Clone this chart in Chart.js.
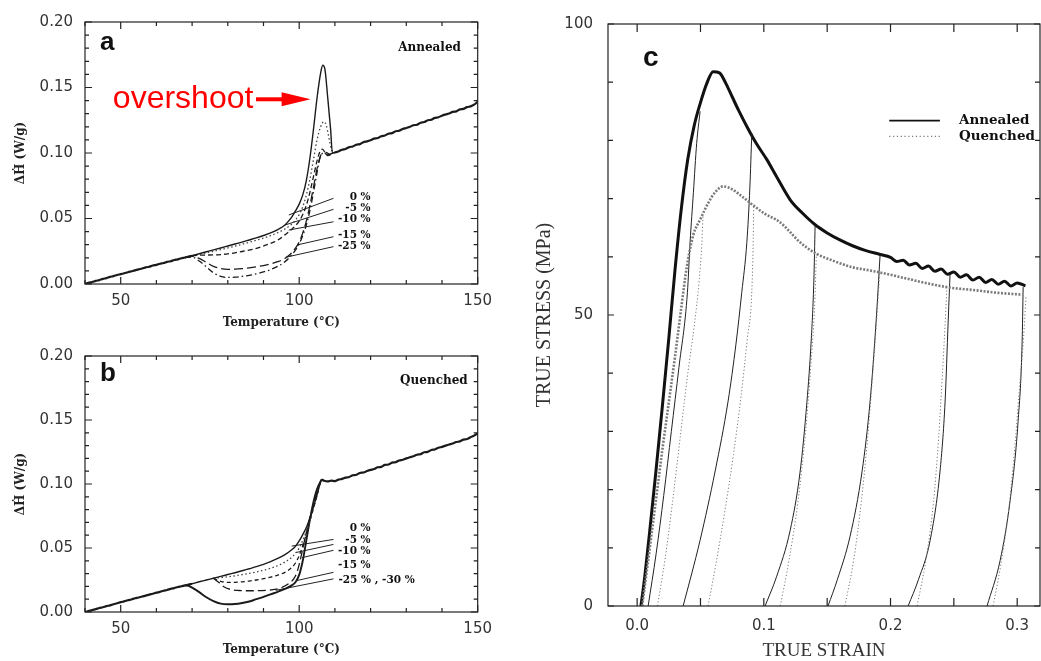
<!DOCTYPE html>
<html><head><meta charset="utf-8">
<script src="https://cdn.jsdelivr.net/npm/chart.js@4.4.1/dist/chart.umd.min.js"></script>
<style>
html,body{margin:0;padding:0;background:#fff;width:1041px;height:661px;overflow:hidden}
canvas{position:absolute;display:block}
</style></head><body>
<canvas id="ca" width="500" height="335" style="left:0;top:0;width:500px;height:335px"></canvas>
<canvas id="cb" width="500" height="326" style="left:0;top:335px;width:500px;height:326px"></canvas>
<canvas id="cc" width="511" height="661" style="left:530px;top:0;width:511px;height:661px"></canvas>
<script>
// ---------- tick values ----------
const tempTicks = [40,50,60,70,80,90,100,110,120,130,140,150];
const tempTickLabels = [50,100,150];
const dhTicks = [0,0.01,0.02,0.03,0.04,0.05,0.06,0.07,0.08,0.09,0.1,0.11,0.12,0.13,0.14,0.15,0.16,0.17,0.18,0.19,0.2];
const dhTickLabels = [0,0.05,0.1,0.15,0.2];
const strainTicks = [0,0.05,0.1,0.15,0.2,0.25,0.3];
const strainTickLabels = [0,0.1,0.2,0.3];
const stressTicks = [0,10,20,30,40,50,60,70,80,90,100];
const stressTickLabels = [0,50,100];

// ---------- panel a : Annealed DSC ----------
const aGlassT = [40,41,42,43,44,45,46,47,48,49,50,51,52,53,54,55,56,57,58,59,60,61,62,63,64,65,66,67,68,69,70];
const aGlassY = [0.0000,0.0009,0.0015,0.0024,0.0030,0.0039,0.0045,0.0054,0.0060,0.0069,0.0075,0.0082,0.0090,0.0097,0.0104,0.0112,0.0118,0.0127,0.0132,0.0141,0.0146,0.0155,0.0160,0.0169,0.0174,0.0183,0.0188,0.0197,0.0202,0.0210,0.0216];
const aMeltT = [110,111,112,113,114,115,116,117,118,119,120,121,122,123,124,125,126,127,128,129,130,131,132,133,134,135,136,137,138,139,140,141,142,143,144,145,146,147,148,149,150];
const aMeltY = [0.1005,0.1012,0.1025,0.1031,0.1045,0.1050,0.1063,0.1068,0.1082,0.1089,0.1098,0.1110,0.1114,0.1128,0.1134,0.1147,0.1152,0.1166,0.1170,0.1183,0.1191,0.1200,0.1212,0.1216,0.1231,0.1236,0.1250,0.1254,0.1268,0.1273,0.1285,0.1294,0.1302,0.1314,0.1318,0.1333,0.1337,0.1350,0.1356,0.1369,0.1392];
const a0T = [70,72,74,76,78,80,82,84,86,88,90,92,94,96,97,98,99,100,101,102,103,104,105,106,106.6,107.2,108,108.8,109.3,110];
const a0Y = [0.0216,0.0231,0.0246,0.0261,0.0275,0.0290,0.0305,0.0320,0.0336,0.0352,0.0370,0.0390,0.0415,0.0450,0.0480,0.0515,0.0560,0.0610,0.0680,0.0790,0.0960,0.1180,0.1420,0.1610,0.1670,0.1640,0.1420,0.1180,0.1000,0.1005];
const a5T = [70,72,74,76,78,80,82,84,86,88,90,92,94,96,98,99,100,101,102,103,104,105,106,106.9,107.6,108.3,109,109.6,110];
const a5Y = [0.0216,0.0226,0.0238,0.0250,0.0262,0.0275,0.0289,0.0303,0.0318,0.0334,0.0351,0.0370,0.0392,0.0420,0.0460,0.0490,0.0530,0.0590,0.0680,0.0800,0.0950,0.1100,0.1200,0.1240,0.1210,0.1120,0.1030,0.1000,0.1005];
const a10T = [70,72,74,76,78,80,82,84,86,88,90,92,94,96,98,100,101,102,103,104,105,105.8,106.5,107.3,108,109,110];
const a10Y = [0.0216,0.0220,0.0221,0.0222,0.0225,0.0230,0.0238,0.0248,0.0259,0.0272,0.0290,0.0310,0.0335,0.0375,0.0420,0.0480,0.0530,0.0600,0.0700,0.0820,0.0940,0.1010,0.1030,0.1000,0.0980,0.0990,0.1005];
const a15T = [68,70,72,74,76,78,80,82,84,86,88,90,92,94,96,98,99,100,101,102,103,104,105,106,107,108,109,110];
const a15Y = [0.0202,0.0212,0.0195,0.0165,0.0135,0.0118,0.0112,0.0113,0.0117,0.0123,0.0131,0.0141,0.0153,0.0170,0.0195,0.0240,0.0275,0.0320,0.0390,0.0480,0.0600,0.0740,0.0880,0.0980,0.1000,0.0985,0.0995,0.1005];
const a25T = [68,70,72,74,76,78,80,82,84,86,88,90,92,94,96,97,98,99,100,101,102,103,104,105,105.8,106.6,107.5,108.5,110];
const a25Y = [0.0202,0.0205,0.0175,0.0130,0.0085,0.0058,0.0050,0.0052,0.0058,0.0066,0.0078,0.0092,0.0110,0.0135,0.0170,0.0195,0.0225,0.0260,0.0305,0.0370,0.0450,0.0560,0.0700,0.0850,0.0960,0.1000,0.1005,0.0990,0.1005];
const aPtrStartT = [97.1,96.0,97.1,99.4,96.2];
const aPtrStartY = [0.0527,0.0450,0.0412,0.0298,0.0204];
const aPtrEndT = [109.6,109.6,109.6,109.6,109.6];
const aPtrEndY = [0.0654,0.0570,0.0475,0.0361,0.0285];
const aLabels = ['0 %','-5 %','-10 %','-15 %','-25 %'];
const aLabelY = [0.0664,0.0580,0.0496,0.0374,0.0290];

// ---------- panel b : Quenched DSC ----------
const bGlassT = [40,41,42,43,44,45,46,47,48,49,50,51,52,53,54,55,56,57,58,59,60,61,62,63,64,65,66,67,68,69,70];
const bGlassY = [0.0000,0.0007,0.0016,0.0022,0.0031,0.0037,0.0046,0.0052,0.0061,0.0068,0.0077,0.0083,0.0092,0.0098,0.0107,0.0113,0.0121,0.0128,0.0136,0.0143,0.0151,0.0157,0.0166,0.0172,0.0181,0.0187,0.0195,0.0201,0.0208,0.0214,0.0221];
const bMeltT = [106.3,107,108,109,110,111,112,113,114,115,116,117,118,119,120,121,122,123,124,125,126,127,128,129,130,131,132,133,134,135,136,137,138,139,140,141,142,143,144,145,146,147,148,149,150];
const bMeltY = [0.1035,0.1025,0.1020,0.1027,0.1023,0.1034,0.1040,0.1050,0.1055,0.1068,0.1072,0.1086,0.1090,0.1101,0.1110,0.1117,0.1131,0.1134,0.1149,0.1152,0.1167,0.1170,0.1184,0.1189,0.1200,0.1209,0.1217,0.1229,0.1233,0.1248,0.1251,0.1266,0.1270,0.1283,0.1290,0.1300,0.1309,0.1316,0.1328,0.1333,0.1347,0.1351,0.1366,0.1378,0.1395];
const b0T = [70,72,74,76,78,80,82,84,86,88,90,92,94,96,98,99,100,101,102,103,104,105,105.8,106.3,107];
const b0Y = [0.0221,0.0236,0.0250,0.0264,0.0278,0.0293,0.0307,0.0322,0.0338,0.0354,0.0372,0.0393,0.0418,0.0448,0.0488,0.0515,0.0555,0.0605,0.0660,0.0735,0.0820,0.0915,0.1000,0.1035,0.1025];
const b5T = [76,78,80,82,84,86,88,90,92,94,96,98,99,100,101,102,103,104,105,105.8,106.3];
const b5Y = [0.0264,0.0268,0.0275,0.0283,0.0292,0.0302,0.0313,0.0326,0.0342,0.0362,0.0390,0.0430,0.0460,0.0500,0.0560,0.0630,0.0720,0.0820,0.0920,0.1000,0.1035];
const b10T = [76,77,78,80,82,84,86,88,90,92,94,96,98,99,100,101,102,103,104,105,105.8,106.3];
const b10Y = [0.0264,0.0250,0.0240,0.0232,0.0232,0.0236,0.0242,0.0250,0.0260,0.0272,0.0288,0.0310,0.0350,0.0385,0.0440,0.0520,0.0610,0.0710,0.0810,0.0910,0.1000,0.1035];
const b15T = [76,77.5,79,81,83,86,89,92,95,97,98.5,99.5,100.5,101.5,102.5,103.5,104.5,105.5,106.3];
const b15Y = [0.0264,0.0230,0.0195,0.0175,0.0168,0.0166,0.0167,0.0172,0.0190,0.0220,0.0260,0.0320,0.0430,0.0560,0.0680,0.0790,0.0890,0.0980,0.1035];
const b25T = [68,69,70,72,74,76,78,80,82,84,86,88,90,92,94,96,98,99,100,101,102,103,104,105,105.8,106.3];
const b25Y = [0.0208,0.0205,0.0190,0.0155,0.0115,0.0085,0.0065,0.0060,0.0062,0.0070,0.0082,0.0100,0.0118,0.0138,0.0158,0.0180,0.0210,0.0235,0.0290,0.0400,0.0560,0.0720,0.0860,0.0960,0.1010,0.1035];
const bPtrStartT = [97.9,99.0,100.8,99.4,93.4];
const bPtrStartY = [0.0515,0.0464,0.0425,0.0246,0.0169];
const bPtrEndT = [109.6,109.6,109.6,109.6,109.6];
const bPtrEndY = [0.0567,0.0528,0.0482,0.0310,0.0259];
const bLabels = ['0 %','-5 %','-10 %','-15 %','-25 % , -30 %'];
const bLabelY = [0.0656,0.0559,0.0472,0.0369,0.0246];

// ---------- panel c : stress-strain ----------
const cAnnX = [0.003,0.006,0.01,0.015,0.02,0.025,0.03,0.035,0.04,0.045,0.05,0.055,0.06,0.065,0.07,0.075,0.08,0.0866,0.094,0.1024,0.11,0.1208,0.13,0.1405,0.15,0.16,0.17,0.18,0.1918,0.2,0.205,0.21,0.215,0.22,0.225,0.23,0.235,0.24,0.245,0.25,0.255,0.26,0.265,0.27,0.275,0.28,0.285,0.29,0.295,0.3,0.3065];
const cAnnY = [0,5,13,23.5,34.5,46,58,68.5,76.8,82.5,86.5,89.8,91.8,91.6,89.8,87.5,85.2,82.4,79.5,76.7,73.8,69.8,67.6,65.5,64.1,62.9,61.9,61.1,60.4,59.9,59.2,59.4,58.6,58.9,58.0,58.4,57.5,57.9,57.0,57.4,56.5,56.9,56.0,56.5,55.6,56.1,55.3,55.8,55.0,55.5,55.0];
const cQueX = [0.004,0.01,0.015,0.02,0.025,0.03,0.035,0.039,0.0444,0.05,0.056,0.062,0.068,0.075,0.082,0.089,0.1,0.113,0.1286,0.14,0.155,0.17,0.18,0.192,0.21,0.23,0.247,0.265,0.285,0.304];
const cQueY = [0,10,18.5,27,35,43,51.5,58,63.8,66.5,69.2,71.2,72.1,71.6,70.5,69.3,67.5,65.9,62.5,60.7,59.3,58.2,57.8,57.3,56.4,55.4,54.7,54.3,53.8,53.5];
const cA1X = [0.0087,0.015,0.021,0.027,0.033,0.0397,0.0418,0.0444,0.047,0.0497];
const cA1Y = [0,9,19,30,41,53.9,62.5,71,79.5,85];
const cA2X = [0.0363,0.043,0.0497,0.0616,0.0718,0.078,0.0826,0.0866,0.089,0.0905];
const cA2Y = [0,5.5,11.3,23.2,35.2,45,53.9,62.5,72,81.2];
const cA3X = [0.101,0.11,0.1208,0.1286,0.134,0.1375,0.1395,0.1405];
const cA3Y = [0,5,13,23,35,46,56,65.5];
const cA4X = [0.1507,0.158,0.1681,0.1776,0.1839,0.1886,0.1918];
const cA4Y = [0,4.5,12,23.2,35.2,48.8,60.4];
const cA5X = [0.2139,0.222,0.2313,0.2391,0.2431,0.2455,0.247];
const cA5Y = [0,4.5,11.3,23.2,35.2,48.8,57];
const cA6X = [0.2762,0.2865,0.2944,0.3007,0.3039,0.3047];
const cA6Y = [0,7.8,18.1,31.7,45.4,54.8];
const cQ1X = [0.016,0.022,0.028,0.034,0.04,0.045,0.049,0.051,0.052];
const cQ1Y = [0,8,18,29,40,48,56,62,67];
const cQ2X = [0.056,0.062,0.069,0.076,0.082,0.087,0.0905,0.0918,0.092];
const cQ2Y = [0,7,16,26,36,46,54,65,69];
const cQ3X = [0.113,0.12,0.127,0.133,0.137,0.14,0.1415];
const cQ3Y = [0,8,18,30,41,51,60.5];
const cQ4X = [0.164,0.171,0.177,0.182,0.186,0.189,0.1915];
const cQ4Y = [0,8,18,29,40,49,57.3];
const cQ5X = [0.221,0.228,0.234,0.238,0.241,0.243,0.2445];
const cQ5Y = [0,8,18,29,40,48,54.7];
const cQ6X = [0.281,0.287,0.293,0.298,0.302,0.305,0.307];
const cQ6Y = [0,7,16,27,38,46,53.4];

// ---------- helpers ----------
const INK = '#1a1a1a';
function ds(xs, ys, style){
  return Object.assign({data: xs.map((x,i)=>({x:x, y:ys[i]})), pointRadius:0, borderColor:INK, borderWidth:1.3, fill:false,
    cubicInterpolationMode:'monotone', borderJoinStyle:'round'}, style||{});
}
function hasVal(list, v){ return list.some(l=>Math.abs(l-v)<1e-9); }

const decorPlugin = {
  id:'decor',
  afterDatasetsDraw(chart, args, o){
    const ctx = chart.ctx, a = chart.chartArea, sx = chart.scales.x, sy = chart.scales.y;
    const X = v=>sx.getPixelForValue(v), Y = v=>sy.getPixelForValue(v);
    ctx.save();
    ctx.strokeStyle = '#222'; ctx.lineWidth = o.frameWidth || 1.2; ctx.setLineDash([]);
    ctx.strokeRect(a.left, a.top, a.right-a.left, a.bottom-a.top);
    ctx.beginPath();
    sx.ticks.forEach(t=>{ const p = X(t.value); const L = (t.label!=='' ? o.xMajor : o.xMinor);
      ctx.moveTo(p, a.bottom); ctx.lineTo(p, a.bottom-L); ctx.moveTo(p, a.top); ctx.lineTo(p, a.top+L); });
    sy.ticks.forEach(t=>{ const p = Y(t.value); const L = (t.label!=='' ? o.yMajor : o.yMinor);
      ctx.moveTo(a.left, p); ctx.lineTo(a.left+L, p); ctx.moveTo(a.right, p); ctx.lineTo(a.right-L, p); });
    ctx.stroke();
    (o.lines||[]).forEach(l=>{ ctx.beginPath(); ctx.setLineDash(l.dash||[]); ctx.strokeStyle=l.color; ctx.lineWidth=l.width;
      ctx.moveTo(X(l.x1), Y(l.y1)); ctx.lineTo(X(l.x2), Y(l.y2)); ctx.stroke(); });
    ctx.setLineDash([]);
    if (o.arrow){
      const r = o.arrow; const x1 = X(r.x1), x2 = X(r.x2), y = Y(r.y);
      ctx.strokeStyle = r.color; ctx.fillStyle = r.color; ctx.lineWidth = r.width;
      ctx.beginPath(); ctx.moveTo(x1, y); ctx.lineTo(x2 - r.head + 2, y); ctx.stroke();
      ctx.beginPath(); ctx.moveTo(x2, y); ctx.lineTo(x2 - r.head, y - r.half); ctx.lineTo(x2 - r.head, y + r.half); ctx.closePath(); ctx.fill();
    }
    (o.texts||[]).forEach(t=>{ ctx.font = t.font; ctx.fillStyle = t.color || '#111'; ctx.textAlign = t.align || 'left';
      ctx.textBaseline = t.base || 'middle'; ctx.fillText(t.t, X(t.x), Y(t.y)); });
    ctx.restore();
  }
};

const SANS = "'DejaVu Sans', sans-serif";
const SERIFB = "'DejaVu Serif', serif";
const LBL = "bold 10.5px 'DejaVu Serif'";

function dscConfig(datasets, padTop, xHeight, xTitlePad, decor){
  return {
    type:'line',
    data:{datasets: datasets},
    options:{
      responsive:false, animation:false, devicePixelRatio:1,
      layout:{padding:{top:padTop, right:20, left:0, bottom:0}},
      plugins:{legend:{display:false}, tooltip:{enabled:false}, decor: decor},
      scales:{
        x:{type:'linear', min:40, max:150,
          afterFit(s){ s.height = xHeight; },
          afterBuildTicks(s){ s.ticks = tempTicks.map(v=>({value:v})); },
          ticks:{autoSkip:false, maxRotation:0, padding:8, color:'#333', font:{family:SANS, size:15},
            callback:v=> hasVal(tempTickLabels, v) ? String(v) : ''},
          grid:{display:false, drawTicks:false}, border:{display:false},
          title:{display:true, text:'Temperature (°C)', color:'#222', font:{family:SERIFB, size:12, weight:'bold'}, padding:{top:0, bottom:xTitlePad}}
        },
        y:{type:'linear', min:0, max:0.2,
          afterFit(s){ s.width = 85; },
          afterBuildTicks(s){ s.ticks = dhTicks.map(v=>({value:v})); },
          ticks:{autoSkip:false, padding:12, color:'#333', font:{family:SANS, size:15},
            callback:v=> hasVal(dhTickLabels, v) ? v.toFixed(2) : ''},
          grid:{display:false, drawTicks:false}, border:{display:false},
          title:{display:true, text:'\u0394\u1E22 (W/g)', color:'#222', font:{family:SERIFB, size:12, weight:'bold'}, padding:{top:14, bottom:0}}
        }
      }
    },
    plugins:[decorPlugin]
  };
}

function pointerSets(st, sy, et, ey){
  return st.map((t,i)=>ds([t, et[i]], [sy[i], ey[i]], {borderWidth:1, borderColor:'#222'}));
}

// ---------- chart a ----------
const aTexts = aLabels.map((l,i)=>({t:l, x:120, y:aLabelY[i], font:LBL, align:'right'}));
aTexts.push({t:'a', x:44.2, y:0.1785, font:"bold 26px 'Liberation Sans'", base:'alphabetic'});
aTexts.push({t:'Annealed', x:145.3, y:0.180, font:"bold 12px 'DejaVu Serif'", align:'right'});
aTexts.push({t:'overshoot', x:47.8, y:0.1343, font:"32px 'Liberation Sans'", color:'#ff0000', base:'alphabetic'});
new Chart(document.getElementById('ca'), dscConfig([
  ds(aGlassT, aGlassY, {borderWidth:2.2}),
  ds(aMeltT, aMeltY, {borderWidth:2.2}),
  ds(a0T, a0Y, {borderWidth:1.4}),
  ds(a5T, a5Y, {borderDash:[1.5,2.5], borderColor:'#444'}),
  ds(a10T, a10Y, {borderDash:[5,3]}),
  ds(a15T, a15Y, {borderDash:[9,4]}),
  ds(a25T, a25Y, {borderDash:[6,3,1.5,3]})
].concat(pointerSets(aPtrStartT, aPtrStartY, aPtrEndT, aPtrEndY)), 22, 51, 5,
  {xMajor:7, xMinor:4, yMajor:7, yMinor:4, texts:aTexts,
   arrow:{x1:87.9, x2:103.2, y:0.141, color:'#ff0000', width:4, head:29, half:7}}));

// ---------- chart b ----------
const bTexts = bLabels.map((l,i)=>(i<4 ? {t:l, x:120, y:bLabelY[i], font:LBL, align:'right'} : {t:l, x:111, y:bLabelY[i], font:LBL, align:'left'}));
bTexts.push({t:'b', x:44.2, y:0.1808, font:"bold 26px 'Liberation Sans'", base:'alphabetic'});
bTexts.push({t:'Quenched', x:147.2, y:0.1808, font:"bold 12px 'DejaVu Serif'", align:'right'});
new Chart(document.getElementById('cb'), dscConfig([
  ds(bGlassT, bGlassY, {borderWidth:2.2}),
  ds(bMeltT, bMeltY, {borderWidth:2.2}),
  ds(b0T, b0Y, {borderWidth:1.4}),
  ds(b5T, b5Y, {borderDash:[1.5,2.5], borderColor:'#444'}),
  ds(b10T, b10Y, {borderDash:[4,3]}),
  ds(b15T, b15Y, {borderDash:[8,4]}),
  ds(b25T, b25Y, {borderWidth:1.9})
].concat(pointerSets(bPtrStartT, bPtrStartY, bPtrEndT, bPtrEndY)), 17, 49, 4,
  {xMajor:7, xMinor:4, yMajor:7, yMinor:4, texts:bTexts}));

// ---------- chart c ----------
const DOT = {borderDash:[1.2,2.2], borderColor:'#777', borderWidth:1};
const THIN = {borderWidth:1, borderColor:'#222'};
new Chart(document.getElementById('cc'), {
  type:'line',
  data:{datasets:[
    ds(cQ1X,cQ1Y,DOT), ds(cQ2X,cQ2Y,DOT), ds(cQ3X,cQ3Y,DOT), ds(cQ4X,cQ4Y,DOT), ds(cQ5X,cQ5Y,DOT), ds(cQ6X,cQ6Y,DOT),
    ds(cQueX, cQueY, {borderDash:[2,1.5], borderColor:'#7a7a7a', borderWidth:2.6}),
    ds(cA1X,cA1Y,THIN), ds(cA2X,cA2Y,THIN), ds(cA3X,cA3Y,THIN), ds(cA4X,cA4Y,THIN), ds(cA5X,cA5Y,THIN), ds(cA6X,cA6Y,THIN),
    ds(cAnnX, cAnnY, {borderWidth:3, borderColor:'#111'})
  ]},
  options:{
    responsive:false, animation:false, devicePixelRatio:1,
    layout:{padding:{top:20, right:1, left:0, bottom:0}},
    plugins:{legend:{display:false}, tooltip:{enabled:false},
      decor:{xMajor:8, xMinor:8, yMajor:6, yMinor:5,
        lines:[{x1:0.199, y1:83.4, x2:0.239, y2:83.4, color:'#111', width:1.6},
               {x1:0.199, y1:80.7, x2:0.239, y2:80.7, color:'#777', width:1.2, dash:[1.2,2.6]}],
        texts:[{t:'c', x:0.0047, y:92.7, font:"bold 28px 'Liberation Sans'", base:'alphabetic'},
               {t:'Annealed', x:0.254, y:83.4, font:"bold 13.5px 'DejaVu Serif'"},
               {t:'Quenched', x:0.254, y:80.7, font:"bold 13.5px 'DejaVu Serif'"}]}},
    scales:{
      x:{type:'linear', min:-0.023, max:0.318,
        afterFit(s){ s.height = 55; },
        afterBuildTicks(s){ s.ticks = strainTicks.map(v=>({value:v})); },
        ticks:{autoSkip:false, maxRotation:0, padding:11, color:'#333', font:{family:SANS, size:15},
          callback:v=> hasVal(strainTickLabels, v) ? v.toFixed(1) : ''},
        grid:{display:false, drawTicks:false}, border:{display:false},
        title:{display:true, text:'TRUE STRAIN', color:'#333', font:{family:"'Liberation Serif', serif", size:19, lineHeight:1}, padding:{top:0, bottom:0}}
      },
      y:{type:'linear', min:0, max:100,
        afterFit(s){ s.width = 78; },
        afterBuildTicks(s){ s.ticks = stressTicks.map(v=>({value:v})); },
        ticks:{autoSkip:false, padding:15, color:'#333', font:{family:SANS, size:15},
          callback:v=> hasVal(stressTickLabels, v) ? String(v) : ''},
        grid:{display:false, drawTicks:false}, border:{display:false},
        title:{display:true, text:'TRUE STRESS (MPa)', color:'#333', font:{family:"'Liberation Serif', serif", size:20, lineHeight:1}, padding:{top:5, bottom:0}}
      }
    }
  },
  plugins:[decorPlugin]
});
</script>
</body></html>
